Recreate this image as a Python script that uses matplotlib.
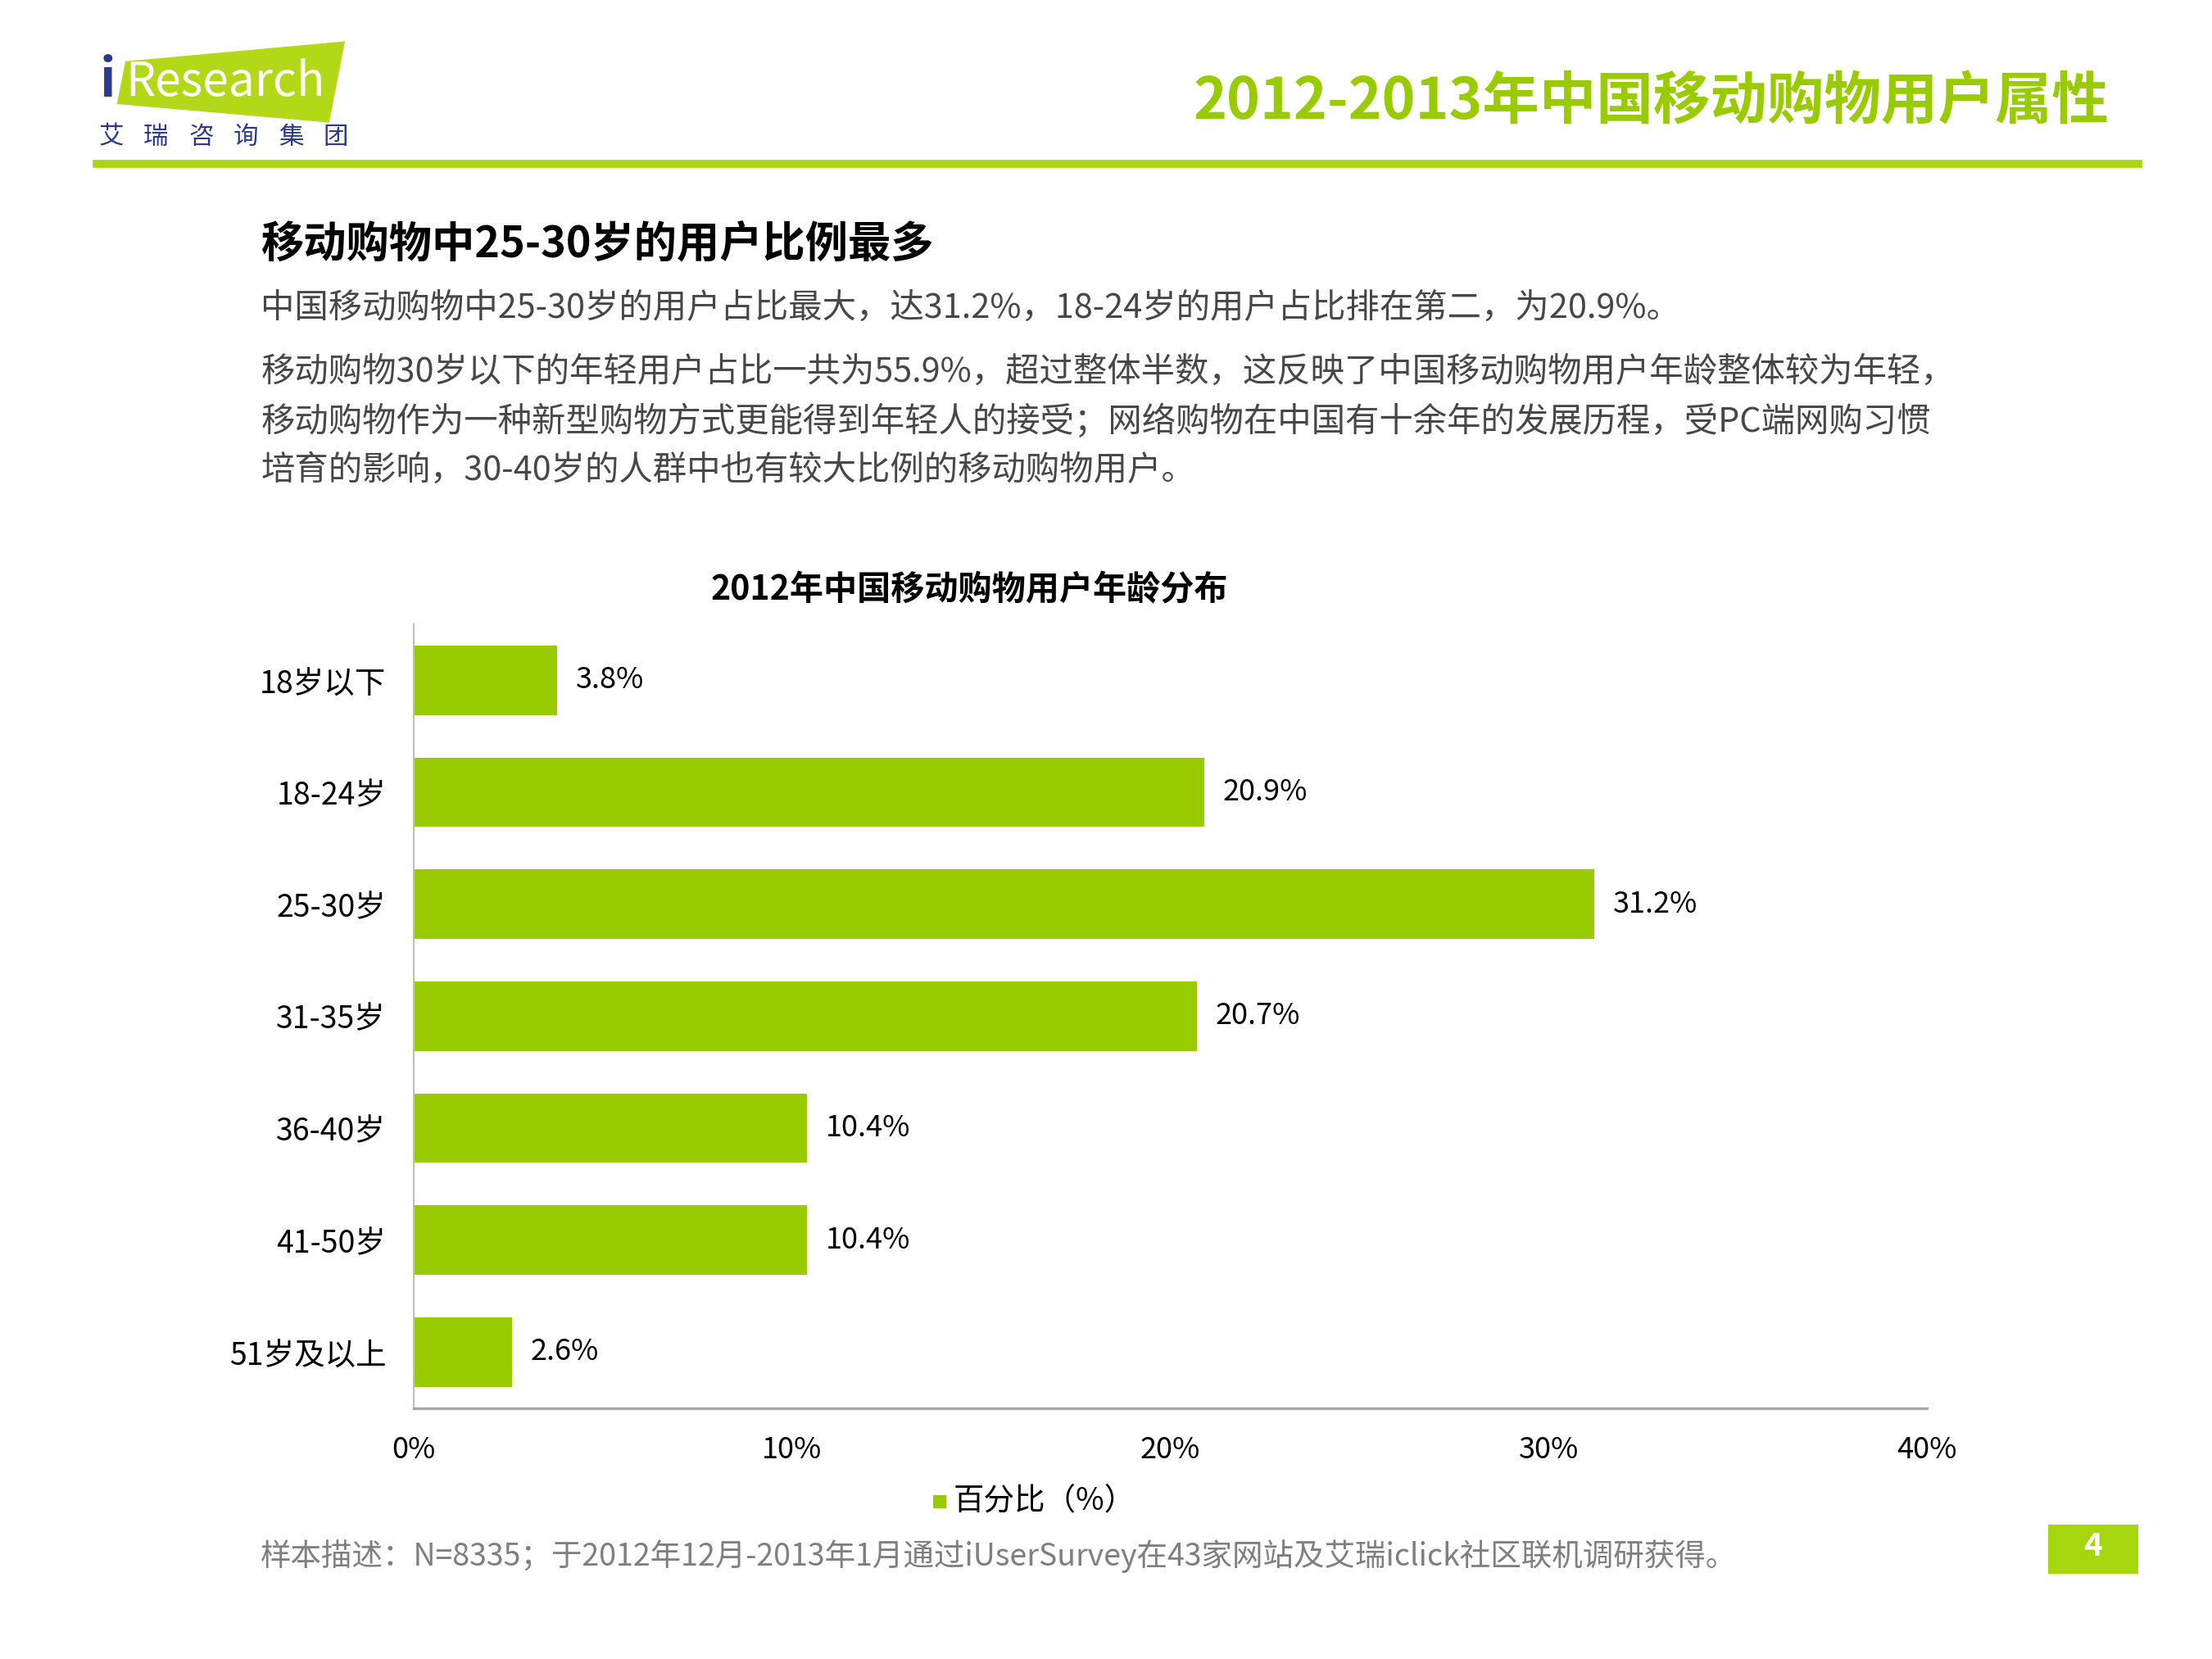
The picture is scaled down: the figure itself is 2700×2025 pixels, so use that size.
import matplotlib
matplotlib.use('Agg')
import matplotlib.pyplot as plt
from matplotlib.patches import Polygon, Rectangle
from matplotlib.lines import Line2D

plt.rcParams['font.family'] = ['Noto Sans CJK SC', 'DejaVu Sans']

# Data
categories = ['18岁以下', '18-24岁', '25-30岁', '31-35岁', '36-40岁', '41-50岁', '51岁及以上']
values = [3.8, 20.9, 31.2, 20.7, 10.4, 10.4, 2.6]
xticks = [0, 10, 20, 30, 40]
xtick_labels = ['0%', '10%', '20%', '30%', '40%']

page_title = '2012-2013年中国移动购物用户属性'
heading = '移动购物中25-30岁的用户比例最多'
paragraphs = [
    '中国移动购物中25-30岁的用户占比最大，达31.2%，18-24岁的用户占比排在第二，为20.9%。',
    '移动购物30岁以下的年轻用户占比一共为55.9%，超过整体半数，这反映了中国移动购物用户年龄整体较为年轻，',
    '移动购物作为一种新型购物方式更能得到年轻人的接受；网络购物在中国有十余年的发展历程，受PC端网购习惯',
    '培育的影响，30-40岁的人群中也有较大比例的移动购物用户。',
]
chart_title = '2012年中国移动购物用户年龄分布'
legend_label = '百分比（%）'
footnote = '样本描述：N=8335；于2012年12月-2013年1月通过iUserSurvey在43家网站及艾瑞iclick社区联机调研获得。'
page_no = '4'
logo_cn = '艾瑞咨询集团'

GREEN = '#99CC00'
LINE_GREEN = '#A9D513'
BLUE = '#2B3990'

W, H = 1552.0, 1164.0


def fx(x):
    return x / W


def fy(y):
    return 1 - y / H


fig = plt.figure(figsize=(13.5, 10.125), dpi=200)

# Logo
logo = Polygon([(fx(88), fy(43)), (fx(242), fy(29)), (fx(231), fy(86)), (fx(82), fy(73))],
               closed=True, transform=fig.transFigure, facecolor='#B2D817', edgecolor='none')
fig.patches.append(logo)
fig.text(fx(70), fy(57), 'i', color=BLUE, fontsize=23, fontweight='bold', va='center', ha='left')
fig.text(fx(88), fy(58), 'Research', color='white', fontsize=20.5, va='center', ha='left')
for i, ch in enumerate(logo_cn):
    fig.text(fx(78 + i * 31.5), fy(96), ch, color=BLUE, fontsize=11, va='center', ha='center')

# Header line and title
fig.lines.append(Line2D([fx(68), fx(1500)], [fy(115), fy(115)], transform=fig.transFigure,
                        color=LINE_GREEN, linewidth=3.5))
fig.text(fx(1480), fy(72), page_title, color=GREEN, fontsize=25, fontweight='bold',
         ha='right', va='center')

# Text block
fig.text(fx(183), fy(172), heading, color='black', fontsize=18.8, fontweight='bold', ha='left', va='center')
line_y = [216, 261, 296, 330]
for txt, y in zip(paragraphs, line_y):
    fig.text(fx(183), fy(y), txt, color='#474747', fontsize=14.9, ha='left', va='center')

# Chart
ax = fig.add_axes([fx(290), fy(988), fx(1352) - fx(290), (988 - 438) / H])
ypos = list(range(len(categories)))
bars = ax.barh(ypos, values, height=0.62, color=GREEN)
ax.set_ylim(len(categories) - 0.5, -0.5)
ax.set_xlim(0, 40)
ax.set_yticks(ypos)
ax.set_yticklabels(categories, fontsize=13.5)
ax.set_xticks(xticks)
ax.set_xticklabels(xtick_labels, fontsize=13)
ax.tick_params(axis='both', length=0)
ax.tick_params(axis='y', pad=12)
ax.tick_params(axis='x', pad=12)
for s in ['top', 'right']:
    ax.spines[s].set_visible(False)
ax.spines['left'].set_color('#BFBFBF')
ax.spines['bottom'].set_color('#A6A6A6')
ax.spines['left'].set_linewidth(0.8)
ax.spines['bottom'].set_linewidth(1.2)
for b, v in zip(bars, values):
    ax.text(v + 0.5, b.get_y() + b.get_height() / 2, f'{v}%', fontsize=13,
            ha='left', va='center')

fig.text(fx(680), fy(414), chart_title, fontsize=14.8, fontweight='bold', ha='center', va='center')

# Legend
fig.patches.append(Rectangle((fx(655), fy(1058)), fx(9), 9 / H, transform=fig.transFigure,
                             facecolor=GREEN, edgecolor='none'))
fig.text(fx(669), fy(1053), legend_label, fontsize=13.5, ha='left', va='center')

# Footnote
fig.text(fx(183), fy(1092), footnote, color='#7F7F7F', fontsize=13.5, ha='left', va='center')

# Page number box
fig.patches.append(Rectangle((fx(1437), fy(1104)), fx(63), 34 / H, transform=fig.transFigure,
                             facecolor='#A6D60E', edgecolor='none'))
fig.text(fx(1468.5), fy(1085), page_no, color='white', fontsize=14, fontweight='bold',
         ha='center', va='center')

fig.savefig('out.png', dpi=200)
